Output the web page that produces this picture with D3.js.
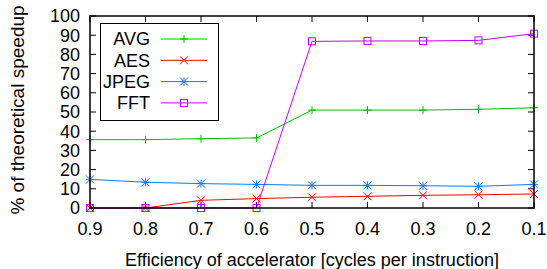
<!DOCTYPE html>
<html><head><meta charset="utf-8">
<script src="https://cdn.jsdelivr.net/npm/d3@7"></script>
<style>body{margin:0;background:#fff}svg{display:block}text{font-family:"Liberation Sans",Arial,sans-serif;fill:#000}</style>
</head><body><svg id="c" width="547" height="269"></svg>
<script>
const categories = [0.9, 0.8, 0.7, 0.6, 0.5, 0.4, 0.3, 0.2, 0.1];
const avgValues  = [35.6, 35.6, 36.1, 36.5, 51.0, 51.0, 51.0, 51.4, 52.2];
const aesValues  = [0, 0, 4.0, 4.9, 5.6, 6.1, 6.6, 6.9, 7.3];
const jpegValues = [14.9, 13.4, 12.7, 12.3, 11.8, 11.8, 11.6, 11.3, 12.3];
const fftValues  = [0, 0, 0, 0, 86.8, 87.0, 87.0, 87.3, 90.8];
const yTicks = [0,10,20,30,40,50,60,70,80,90,100];
const seriesNames = ["AVG","AES","JPEG","FFT"];
const seriesColors = ["#00c000","#ff0000","#0080ff","#c000ff"];
const seriesMarkers = ["plus","cross","star","square"];
const seriesValues = [avgValues, aesValues, jpegValues, fftValues];

const svg = d3.select("#c");
const L=90,R=534,T=16,B=208;
const x = d3.scalePoint().domain(categories).range([L,R]);
const y = d3.scaleLinear().domain([0,100]).range([B,T]);

// ticks (inward, mirrored)
const g = svg.append("g").attr("stroke","#000").attr("stroke-width",1);
categories.forEach(c=>{
  const xx=x(c);
  g.append("line").attr("x1",xx).attr("x2",xx).attr("y1",B).attr("y2",B-6);
  g.append("line").attr("x1",xx).attr("x2",xx).attr("y1",T).attr("y2",T+6);
});
yTicks.forEach(v=>{
  const yy=y(v);
  g.append("line").attr("x1",L).attr("x2",L+6).attr("y1",yy).attr("y2",yy);
  g.append("line").attr("x1",R).attr("x2",R-6).attr("y1",yy).attr("y2",yy);
});

// tick labels
yTicks.forEach(v=>{
  svg.append("text").attr("x",80).attr("y",y(v)).attr("dy","0.35em")
    .attr("text-anchor","end").attr("font-size",18).text(v);
});
categories.forEach(c=>{
  svg.append("text").attr("x",x(c)).attr("y",235)
    .attr("text-anchor","middle").attr("font-size",18).text(c.toFixed(1));
});
svg.append("text").attr("x",312).attr("y",266).attr("text-anchor","middle")
  .attr("font-size",18).text("Efficiency of accelerator [cycles per instruction]");
svg.append("text").attr("transform","translate(24,110) rotate(-90)")
  .attr("text-anchor","middle").attr("font-size",19).text("% of theoretical speedup");

function marker(sel, type, cx, cy, color){
  const s=4;
  const gg=sel.append("g").attr("stroke",color).attr("stroke-width",1).attr("fill","none");
  if(type==="plus"||type==="star"){
    gg.append("line").attr("x1",cx-s).attr("x2",cx+s).attr("y1",cy).attr("y2",cy);
    gg.append("line").attr("x1",cx).attr("x2",cx).attr("y1",cy-s).attr("y2",cy+s);
  }
  if(type==="cross"||type==="star"){
    gg.append("line").attr("x1",cx-s).attr("x2",cx+s).attr("y1",cy-s).attr("y2",cy+s);
    gg.append("line").attr("x1",cx-s).attr("x2",cx+s).attr("y1",cy+s).attr("y2",cy-s);
  }
  if(type==="square"){
    gg.append("rect").attr("x",cx-3.5).attr("y",cy-3.5).attr("width",7).attr("height",7);
  }
}

const line = d3.line().x((d,i)=>x(categories[i])).y(d=>y(d));
seriesValues.forEach((vals,k)=>{
  svg.append("path").datum(vals).attr("d",line).attr("fill","none")
    .attr("stroke",seriesColors[k]).attr("stroke-width",1);
  vals.forEach((v,i)=>marker(svg,seriesMarkers[k],x(categories[i]),y(v),seriesColors[k]));
});

// frame
svg.append("rect").attr("x",L).attr("y",T).attr("width",R-L).attr("height",B-T)
  .attr("fill","none").attr("stroke","#000").attr("stroke-width",1.5);

// legend
const lg = svg.append("g");
lg.append("rect").attr("x",100.5).attr("y",23.5).attr("width",118).attr("height",97)
  .attr("fill","#fff").attr("stroke","#000").attr("stroke-width",1);
seriesNames.forEach((n,k)=>{
  const cy = 39 + k*21.3;
  lg.append("text").attr("x",150).attr("y",cy).attr("dy","0.35em")
    .attr("text-anchor","end").attr("font-size",18).text(n);
  lg.append("line").attr("x1",161).attr("x2",207).attr("y1",cy).attr("y2",cy)
    .attr("stroke",seriesColors[k]).attr("stroke-width",1);
  marker(lg,seriesMarkers[k],184,cy,seriesColors[k]);
});
</script></body></html>
